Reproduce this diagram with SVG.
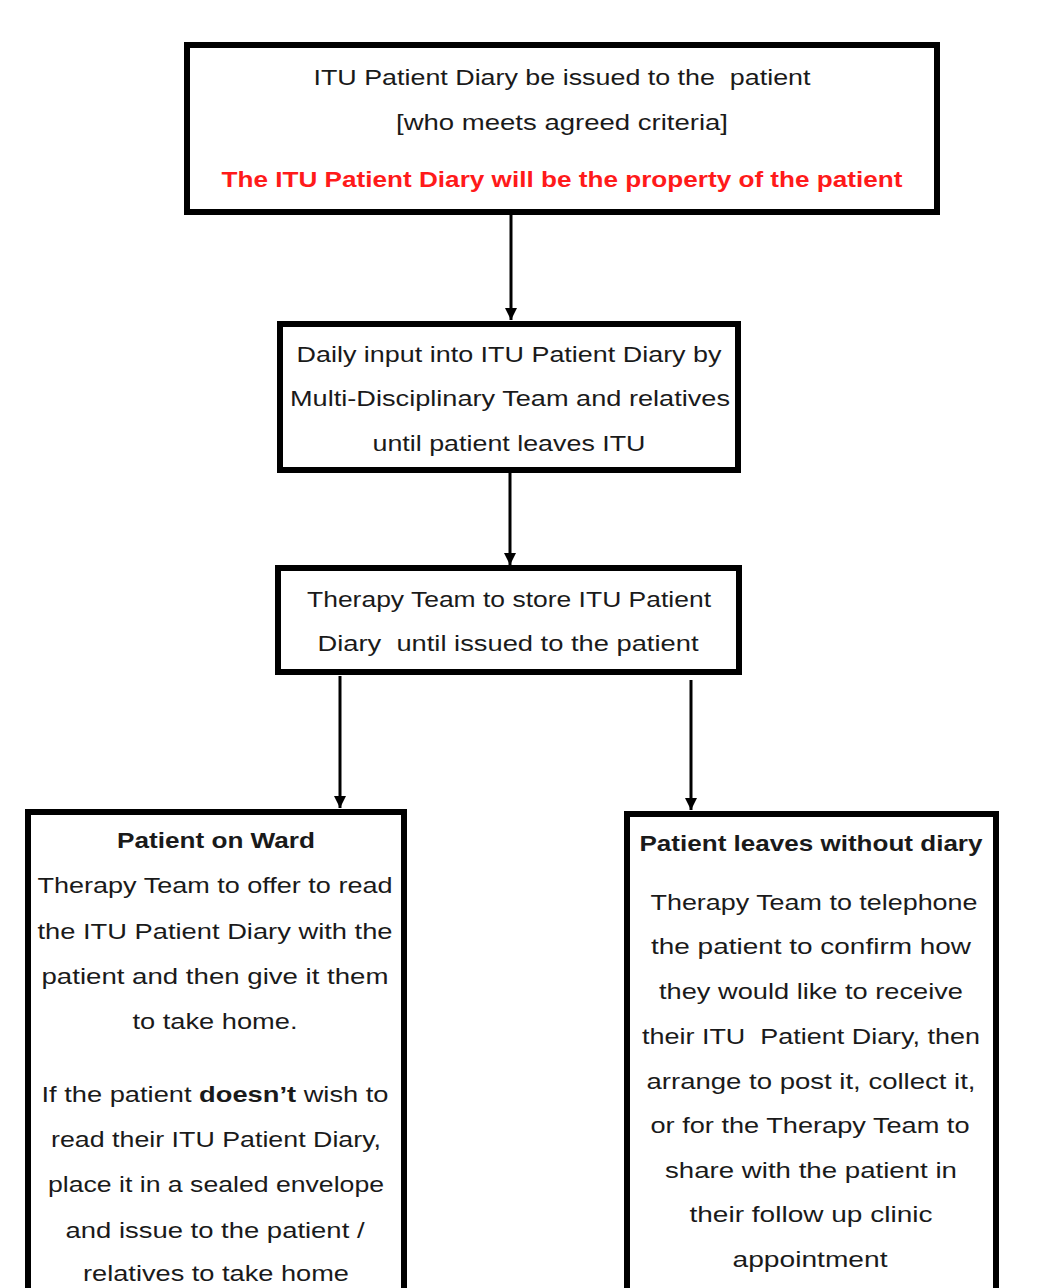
<svg xmlns="http://www.w3.org/2000/svg" width="1045" height="1288" viewBox="0 0 1045 1288">
<defs>
<style>
.box{fill:#fff;stroke:#000;stroke-width:6}
.t{font-family:"Liberation Sans",Arial,sans-serif;font-size:22.5px;fill:#1a1a1a;text-anchor:middle;white-space:pre}
.b{font-weight:bold}
.red{fill:#ff1a1a;font-weight:bold}
.conn{stroke:#000;stroke-width:3;fill:none}
</style>
<marker id="ah" viewBox="0 0 10 10" refX="10" refY="5" markerWidth="4.5" markerHeight="4" markerUnits="strokeWidth" orient="auto">
<path d="M0,0 L10,5 L0,10 z" fill="#000"/>
</marker>
</defs>
<rect width="1045" height="1288" fill="#fff"/>
<g id="connectors">
<line class="conn" x1="511" y1="214" x2="511" y2="320" marker-end="url(#ah)"/>
<line class="conn" x1="510" y1="473" x2="510" y2="565" marker-end="url(#ah)"/>
<line class="conn" x1="340" y1="676" x2="340" y2="808" marker-end="url(#ah)"/>
<line class="conn" x1="691" y1="680" x2="691" y2="810" marker-end="url(#ah)"/>
</g>
<g id="node-issue">
<rect class="box" x="187" y="45" width="750" height="167"/>
<text class="t" x="562" y="85" textLength="497" lengthAdjust="spacingAndGlyphs" xml:space="preserve">ITU Patient Diary be issued to the  patient</text>
<text class="t" x="562" y="130" textLength="332" lengthAdjust="spacingAndGlyphs">[who meets agreed criteria]</text>
<text class="t red" x="562" y="187" textLength="681" lengthAdjust="spacingAndGlyphs">The ITU Patient Diary will be the property of the patient</text>
</g>
<g id="node-daily">
<rect class="box" x="280" y="324" width="458" height="146"/>
<text class="t" x="509" y="362" textLength="425" lengthAdjust="spacingAndGlyphs">Daily input into ITU Patient Diary by</text>
<text class="t" x="510" y="406" textLength="440" lengthAdjust="spacingAndGlyphs">Multi-Disciplinary Team and relatives</text>
<text class="t" x="509" y="451" textLength="273" lengthAdjust="spacingAndGlyphs">until patient leaves ITU</text>
</g>
<g id="node-store">
<rect class="box" x="278" y="568" width="461" height="104"/>
<text class="t" x="509" y="607" textLength="404" lengthAdjust="spacingAndGlyphs">Therapy Team to store ITU Patient</text>
<text class="t" x="508" y="651" textLength="381" lengthAdjust="spacingAndGlyphs" xml:space="preserve">Diary  until issued to the patient</text>
</g>
<g id="node-ward">
<rect class="box" x="28" y="812" width="376" height="500"/>
<text class="t b" x="216" y="848" textLength="198" lengthAdjust="spacingAndGlyphs">Patient on Ward</text>
<text class="t" x="215" y="893" textLength="355" lengthAdjust="spacingAndGlyphs">Therapy Team to offer to read</text>
<text class="t" x="215" y="939" textLength="355" lengthAdjust="spacingAndGlyphs">the ITU Patient Diary with the</text>
<text class="t" x="215" y="984" textLength="347" lengthAdjust="spacingAndGlyphs">patient and then give it them</text>
<text class="t" x="215" y="1029" textLength="165" lengthAdjust="spacingAndGlyphs">to take home.</text>
<text class="t" x="215" y="1102" textLength="347" lengthAdjust="spacingAndGlyphs">If the patient <tspan class="b">doesn’t</tspan> wish to</text>
<text class="t" x="216" y="1147" textLength="330" lengthAdjust="spacingAndGlyphs">read their ITU Patient Diary,</text>
<text class="t" x="216" y="1192" textLength="336" lengthAdjust="spacingAndGlyphs">place it in a sealed envelope</text>
<text class="t" x="215" y="1238" textLength="299" lengthAdjust="spacingAndGlyphs">and issue to the patient /</text>
<text class="t" x="216" y="1281" textLength="266" lengthAdjust="spacingAndGlyphs">relatives to take home</text>
</g>
<g id="node-leaves">
<rect class="box" x="627" y="814" width="369" height="500"/>
<text class="t b" x="811" y="851" textLength="343" lengthAdjust="spacingAndGlyphs">Patient leaves without diary</text>
<text class="t" x="814" y="910" textLength="327" lengthAdjust="spacingAndGlyphs">Therapy Team to telephone</text>
<text class="t" x="811" y="954" textLength="320" lengthAdjust="spacingAndGlyphs">the patient to confirm how</text>
<text class="t" x="811" y="999" textLength="304" lengthAdjust="spacingAndGlyphs">they would like to receive</text>
<text class="t" x="811" y="1044" textLength="338" lengthAdjust="spacingAndGlyphs" xml:space="preserve">their ITU  Patient Diary, then</text>
<text class="t" x="811" y="1089" textLength="329" lengthAdjust="spacingAndGlyphs">arrange to post it, collect it,</text>
<text class="t" x="810" y="1133" textLength="319" lengthAdjust="spacingAndGlyphs">or for the Therapy Team to</text>
<text class="t" x="811" y="1178" textLength="292" lengthAdjust="spacingAndGlyphs">share with the patient in</text>
<text class="t" x="811" y="1222" textLength="243" lengthAdjust="spacingAndGlyphs">their follow up clinic</text>
<text class="t" x="810" y="1267" textLength="155" lengthAdjust="spacingAndGlyphs">appointment</text>
</g>
</svg>
